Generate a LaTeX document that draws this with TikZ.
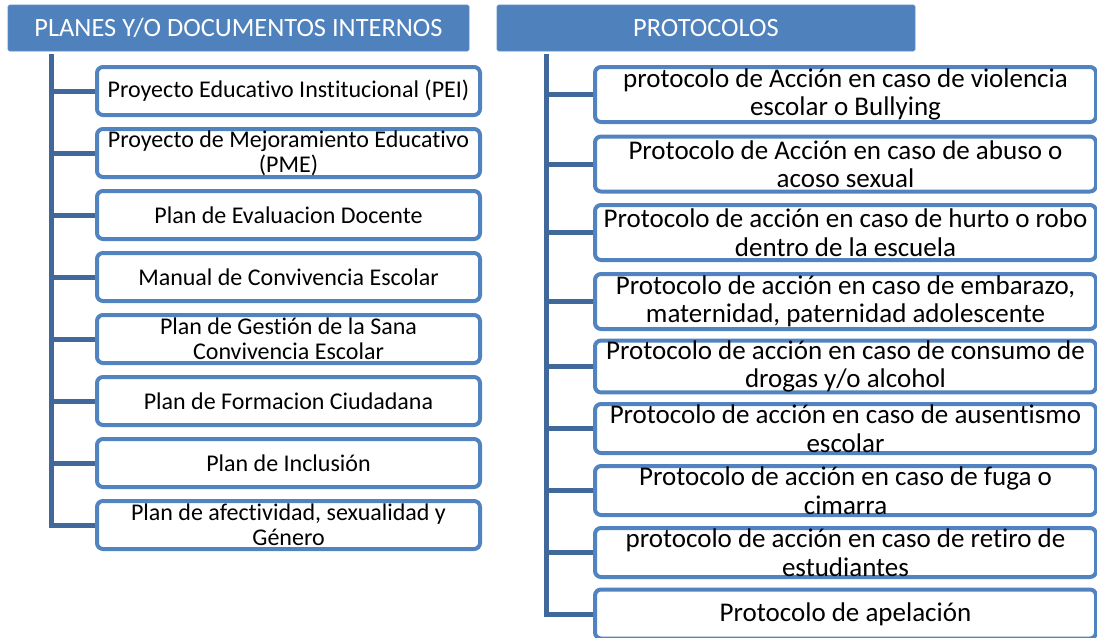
\documentclass[tikz,border=0pt]{standalone}
\usepackage{fontspec}
\setmainfont{Carlito}[Ligatures=NoCommon]
\usetikzlibrary{backgrounds}
\definecolor{hdrblue}{HTML}{4F81BD}
\definecolor{bordblue}{HTML}{5183C0}
\definecolor{lineblue}{HTML}{41689B}
\tikzset{
  hdrbox/.style={fill=hdrblue, draw=hdrblue!90!white, line width=0.6pt, rounded corners=1.5pt,
    text=white, inner sep=0pt, font=\fontsize{26.4}{28}\selectfont},
  leftbox/.style={draw=bordblue, fill=white, line width=4pt, rounded corners=6pt,
    minimum width=383pt, minimum height=48pt, inner sep=0pt, align=center,
    font=\fontsize{24}{25}\selectfont},
  rightbox/.style={draw=bordblue, fill=white, line width=4pt, rounded corners=6pt,
    minimum width=501pt, inner sep=0pt, align=center,
    font=\fontsize{27}{28.5}\selectfont},
  conn/.style={draw=lineblue, line width=5pt},
}
\begin{document}
\begin{tikzpicture}[x=1pt, y=-1pt]
\useasboundingbox (0,0) rectangle (1097,637);
% headers
\node[hdrbox, minimum width=461pt, minimum height=46pt] (h1) at (238.5,28) {PLANES Y/O DOCUMENTOS INTERNOS};
\node[hdrbox, minimum width=418pt, minimum height=46pt] (h2) at (706,28) {PROTOCOLOS};
% left column
\coordinate (lv) at (51,54);
\node[leftbox] (l1) at (288.5,91) {Proyecto Educativo Institucional (PEI)};
\node[leftbox] (l2) at (288.5,153) {Proyecto de Mejoramiento Educativo\\(PME)};
\node[leftbox] (l3) at (288.5,215) {Plan de Evaluacion Docente};
\node[leftbox] (l4) at (288.5,277) {Manual de Convivencia Escolar};
\node[leftbox] (l5) at (288.5,339) {Plan de Gestión de la Sana\\Convivencia Escolar};
\node[leftbox] (l6) at (288.5,401) {Plan de Formacion Ciudadana};
\node[leftbox] (l7) at (288.5,463) {Plan de Inclusión};
\node[leftbox] (l8) at (288.5,525) {Plan de afectividad, sexualidad y\\Género};
% right column
\coordinate (rv) at (546,54);
\node[rightbox, minimum height=55pt] (r1) at (845.5,94.5) {protocolo de Acción en caso de violencia\\escolar o Bullying};
\node[rightbox, minimum height=55pt] (r2) at (845.5,164) {Protocolo de Acción en caso de abuso o\\acoso sexual};
\node[rightbox, minimum height=55pt] (r3) at (845.5,232.5) {Protocolo de acción en caso de hurto o robo\\dentro de la escuela};
\node[rightbox, minimum height=55pt] (r4) at (845.5,301.5) {Protocolo de acción en caso de embarazo,\\maternidad, paternidad adolescente};
\node[rightbox, minimum height=49pt] (r5) at (845.5,366.5) {Protocolo de acción en caso de consumo de\\drogas y/o alcohol};
\node[rightbox, minimum height=49pt] (r6) at (845.5,428.5) {Protocolo de acción en caso de ausentismo\\escolar};
\node[rightbox, minimum height=49pt] (r7) at (845.5,490.5) {Protocolo de acción en caso de fuga o\\cimarra};
\node[rightbox, minimum height=49pt] (r8) at (845.5,552.5) {protocolo de acción en caso de retiro de\\estudiantes};
\node[rightbox, minimum height=49pt] (r9) at (845.5,614) {Protocolo de apelación};
% connectors behind the boxes
\begin{scope}[on background layer]
\draw[conn] (lv) -- (lv |- l8.west) -- (l8.west);
\foreach \n in {l1,l2,l3,l4,l5,l6,l7} \draw[conn] (lv |- \n.west) -- (\n.west);
\draw[conn] (rv) -- (rv |- r9.west) -- (r9.west);
\foreach \n in {r1,r2,r3,r4,r5,r6,r7,r8} \draw[conn] (rv |- \n.west) -- (\n.west);
\end{scope}
\end{tikzpicture}
\end{document}
